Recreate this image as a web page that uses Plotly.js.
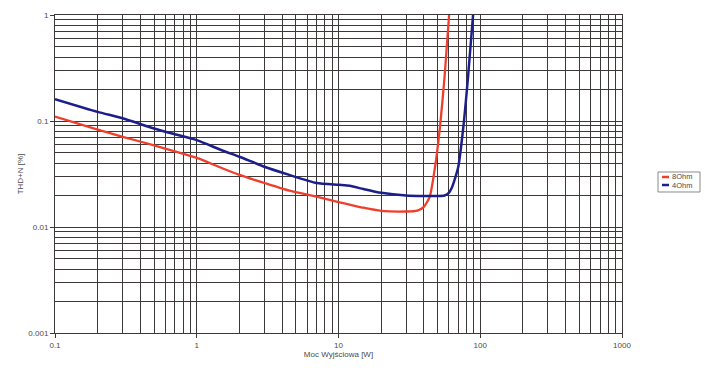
<!DOCTYPE html>
<html>
<head>
<meta charset="utf-8">
<script src="https://cdn.plot.ly/plotly-3.0.1.min.js"></script>
<style>html,body{margin:0;padding:0;background:#fff;}#chart{width:705px;height:381px;}</style>
</head>
<body>
<div id="chart"></div>
<script>
// Series 8 Ohm
var power8 = [0.1, 0.2, 0.3, 0.5, 0.7, 1, 1.5, 2, 3, 4.5, 7, 10, 15, 20, 30, 36, 40, 44, 48, 52, 56, 60.3];
var thd8   = [0.11, 0.083, 0.071, 0.059, 0.0516, 0.0448, 0.036, 0.031, 0.026, 0.022, 0.0193, 0.0172, 0.0152, 0.0142, 0.014, 0.0143, 0.0155, 0.0193, 0.037, 0.088, 0.26, 1.0];
// Series 4 Ohm
var power4 = [0.1, 0.2, 0.3, 0.5, 0.7, 1, 1.5, 2, 3, 4.5, 7, 10, 12, 15, 20, 30, 40, 50, 56, 60, 63, 66, 70, 76, 82, 89];
var thd4   = [0.161, 0.122, 0.106, 0.085, 0.075, 0.066, 0.053, 0.046, 0.037, 0.031, 0.026, 0.025, 0.0245, 0.0228, 0.021, 0.0198, 0.0196, 0.0196, 0.0198, 0.021, 0.0235, 0.028, 0.037, 0.088, 0.26, 1.0];
var seriesNames = ["8Ohm", "4Ohm"];
var seriesColors = ["#ee3e2c", "#1c1f8a"];
var xTickVals = [0.1, 1, 10, 100, 1000];
var xTickText = ["0.1", "1", "10", "100", "1000"];
var yTickVals = [0.001, 0.01, 0.1, 1];
var yTickText = ["0.001", "0.01", "0.1", "1"];

function minorVals(lo, hi) {
  var out = [];
  for (var d = lo; d < hi; d *= 10) {
    for (var m = 2; m <= 9; m++) out.push(+(m * d).toPrecision(6));
  }
  return out;
}
var gridC = "#3d3838";
var textC = "#4a4a4a";
var traces = [
  {x: power8, y: thd8, name: seriesNames[0], mode: "lines", line: {color: seriesColors[0], width: 2.3, shape: "spline", smoothing: 0.6}},
  {x: power4, y: thd4, name: seriesNames[1], mode: "lines", line: {color: seriesColors[1], width: 2.5, shape: "spline", smoothing: 0.6}}
];
// Manual compact legend (paper coordinates relative to plot area)
var legX0 = 1.0635, legX1 = 1.1376, legY0 = 0.4434, legY1 = 0.5063;
var rowY = [0.4906, 0.4654];
var shapes = [{type: "rect", xref: "paper", yref: "paper", x0: legX0, x1: legX1, y0: legY0, y1: legY1, line: {color: "#8a8a8a", width: 1}, fillcolor: "#fff"}];
var annotations = [];
for (var i = 0; i < seriesNames.length; i++) {
  shapes.push({type: "line", xref: "paper", yref: "paper", x0: 1.0705, x1: 1.0829, y0: rowY[i], y1: rowY[i], line: {color: seriesColors[i], width: 2.5}});
  annotations.push({xref: "paper", yref: "paper", x: 1.0855, y: rowY[i], xanchor: "left", yanchor: "middle", text: seriesNames[i], showarrow: false, font: {size: 7.5, color: textC}});
}
var layout = {
  width: 705, height: 381,
  margin: {l: 55, r: 83, t: 15, b: 48},
  paper_bgcolor: "#fff", plot_bgcolor: "#fff",
  font: {family: "Liberation Sans, Arial, sans-serif", size: 8, color: textC},
  showlegend: false,
  shapes: shapes,
  annotations: annotations,
  xaxis: {
    type: "log", range: [-1, 3], tickvals: xTickVals, ticktext: xTickText,
    showgrid: true, gridcolor: gridC, gridwidth: 1,
    ticks: "outside", ticklen: 4, tickcolor: gridC,
    showline: true, linecolor: gridC, linewidth: 1, mirror: true, zeroline: false,
    minor: {tickvals: minorVals(0.1, 1000), showgrid: true, gridcolor: gridC, gridwidth: 1, ticklen: 0},
    title: {text: "Moc Wyjściowa [W]", font: {size: 8, color: textC}, standoff: 2}
  },
  yaxis: {
    type: "log", range: [-3, 0], tickvals: yTickVals, ticktext: yTickText,
    showgrid: true, gridcolor: gridC, gridwidth: 1,
    ticks: "outside", ticklen: 4, tickcolor: gridC,
    showline: true, linecolor: gridC, linewidth: 1, mirror: true, zeroline: false,
    minor: {tickvals: minorVals(0.001, 1), showgrid: true, gridcolor: gridC, gridwidth: 1, ticklen: 0},
    title: {text: "THD+N [%]", font: {size: 8, color: textC}, standoff: 3}
  }
};
Plotly.newPlot("chart", traces, layout, {displayModeBar: false, staticPlot: true});
</script>
</body>
</html>
